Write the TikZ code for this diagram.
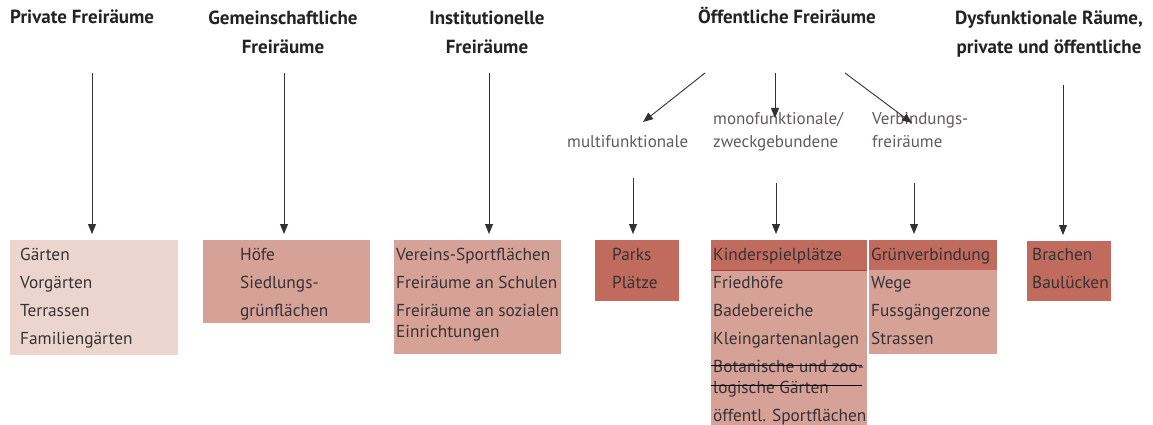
\documentclass[tikz,border=0pt]{standalone}
\usepackage{fontspec}
\setmainfont{PT Sans}
\usetikzlibrary{arrows.meta,calc}
\definecolor{clight}{RGB}{236,213,207}
\definecolor{cmid}{RGB}{214,161,151}
\definecolor{cdark}{RGB}{192,107,93}
\definecolor{cline}{RGB}{165,60,50}
\definecolor{ctext}{RGB}{55,50,50}
\definecolor{chead}{RGB}{35,35,35}
\definecolor{carrow}{RGB}{50,50,50}
\tikzset{
  head/.style={font=\bfseries\fontsize{19}{29}\selectfont, text=chead, align=center, inner sep=0pt},
  sub/.style={font=\fontsize{17}{23}\selectfont, text=ctext!80, align=left, inner sep=0pt, anchor=base west},
  txt/.style={font=\fontsize{17.3}{20}\selectfont, text=ctext, inner sep=0pt, anchor=base west},
  boxbase/.style={anchor=north west, inner sep=0pt, draw=none},
  boxlight/.style={boxbase, fill=clight},
  boxmid/.style={boxbase, fill=cmid},
  boxdark/.style={boxbase, fill=cdark},
  arr/.style={-{Triangle[length=10pt,width=8pt]}, line width=0.9pt, draw=carrow, shorten >=6pt},
}
\begin{document}
\begin{tikzpicture}[x=1pt,y=-1pt]
\useasboundingbox (0,0) rectangle (1153,425);
% headings
\node[head, anchor=base west] (hP) at (10,24) {Private Freiräume};
\node[head, anchor=north] (hG) at (283,11) {Gemeinschaftliche\\Freiräume};
\node[head, anchor=north] (hI) at (487,11) {Institutionelle\\Freiräume};
\node[head, anchor=base] (hO) at (787,24) {Öffentliche Freiräume};
\node[head, anchor=north] (hD) at (1049,11) {Dysfunktionale Räume,\\private und öffentliche};
% sub-categories
\node[sub] (sM) at (567,147) {multifunktionale};
\node[sub] (sMo) at (713,147) {monofunktionale/\\zweckgebundene};
\node[sub] (sV) at (872,147) {Verbindungs-\\freiräume};
% boxes
\node[boxlight, minimum width=168pt, minimum height=115pt] (bP) at (10,240) {};
\node[boxmid, minimum width=167pt, minimum height=83pt] (bG) at (203,240) {};
\node[boxmid, minimum width=167pt, minimum height=114pt] (bI) at (394,240) {};
\node[boxdark, minimum width=84pt, minimum height=61pt] (bPa) at (595,240) {};
\node[boxmid, minimum width=156pt, minimum height=185pt] (bMo) at (711,240) {};
\node[boxdark, minimum width=156pt, minimum height=30pt] (bMoT) at (711,240) {};
\draw[cline, line width=1pt] (bMoT.south west) -- (bMoT.south east);
\node[boxmid, minimum width=128pt, minimum height=114pt] (bV) at (869,240) {};
\node[boxdark, minimum width=128pt, minimum height=30pt] (bVT) at (869,240) {};
\node[boxdark, minimum width=84pt, minimum height=60pt] (bB) at (1027,241) {};
% box texts
\node[txt] (p1) at (20,260) {Gärten};
\node[txt] (p2) at (20,288) {Vorgärten};
\node[txt] (p3) at (20,316) {Terrassen};
\node[txt] (p4) at (20,344) {Familiengärten};
\node[txt] (g1) at (240,260) {Höfe};
\node[txt] (g2) at (240,288) {Siedlungs-};
\node[txt] (g3) at (240,316) {grünflächen};
\node[txt] (i1) at (396,260) {Vereins-Sportflächen};
\node[txt] (i2) at (396,288) {Freiräume an Schulen};
\node[txt] (i3) at (396,316) {Freiräume an sozialen};
\node[txt] (i4) at (396,337) {Einrichtungen};
\node[txt] (pa1) at (612,260) {Parks};
\node[txt] (pa2) at (612,288) {Plätze};
\node[txt] (m1) at (713,260) {Kinderspielplätze};
\node[txt] (m2) at (713,288) {Friedhöfe};
\node[txt] (m3) at (713,316) {Badebereiche};
\node[txt] (m4) at (713,344) {Kleingartenanlagen};
\node[txt] (m5) at (713,372) {Botanische und zoo-};
\node[txt] (m6) at (713,393) {logische Gärten};
\node[txt] (m7) at (713,421) {öffentl. Sportflächen};
\draw[black, line width=0.9pt] (711,365) -- (862,365);
\draw[black, line width=0.9pt] (711,385) -- (862,385);
\node[txt] (v1) at (871,260) {Grünverbindung};
\node[txt] (v2) at (871,288) {Wege};
\node[txt] (v3) at (871,316) {Fussgängerzone};
\node[txt] (v4) at (871,344) {Strassen};
\node[txt] (b1) at (1032,260) {Brachen};
\node[txt] (b2) at (1032,288) {Baulücken};
% arrow start points
\coordinate (aP) at (92,73);
\coordinate (aG) at (284,73);
\coordinate (aI) at (489,73);
\coordinate (aO1) at (705,73);
\coordinate (aO2) at (775,73);
\coordinate (aO3) at (845,73);
\coordinate (aD) at (1063,85);
\coordinate (eM) at (643,122);
\coordinate (eMo) at (775,118);
\coordinate (eV) at (912,123);
\coordinate (aM) at (633,178);
\coordinate (aMo) at (776,183);
\coordinate (aV) at (914,183);
% arrows
\draw[arr] (aP) -- (aP |- bP.north);
\draw[arr] (aG) -- (aG |- bG.north);
\draw[arr] (aI) -- (aI |- bI.north);
\draw[arr] (aD) -- (aD |- bB.north);
\draw[arr, shorten >=0pt] (aO1) -- (eM);
\draw[arr, shorten >=0pt] (aO2) -- (eMo);
\draw[arr, shorten >=0pt] (aO3) -- (eV);
\draw[arr] (aM) -- (aM |- bPa.north);
\draw[arr] (aMo) -- (aMo |- bMo.north);
\draw[arr] (aV) -- (aV |- bV.north);
\end{tikzpicture}
\end{document}
